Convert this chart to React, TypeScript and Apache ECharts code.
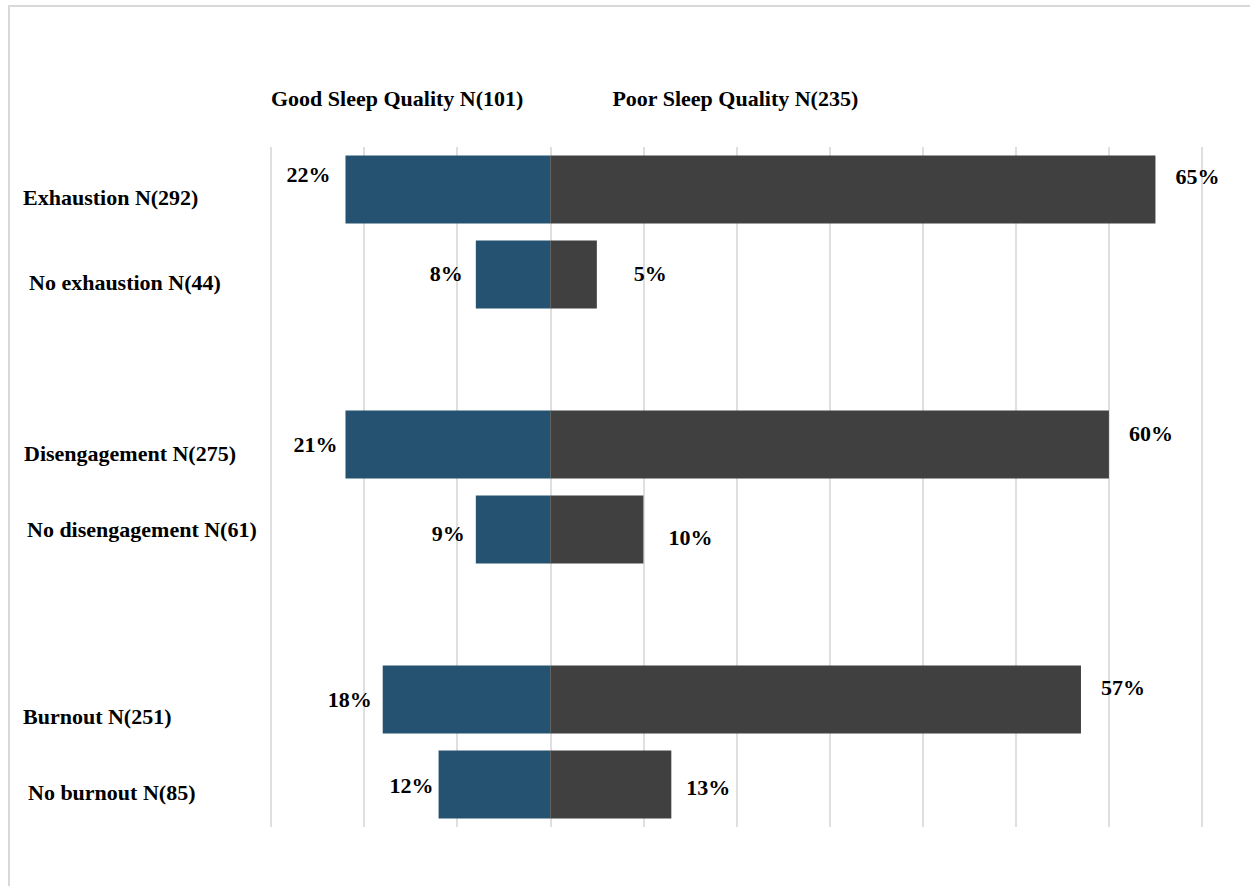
import React, { useEffect, useRef } from "react";
import * as echarts from "echarts";

const categories = [
  "Exhaustion N(292)",
  "No exhaustion N(44)",
  "",
  "Disengagement N(275)",
  "No disengagement N(61)",
  "",
  "Burnout N(251)",
  "No burnout N(85)",
];
const seriesNames = ["Good Sleep Quality N(101)", "Poor Sleep Quality N(235)"];
// bar lengths (percent)
const goodValues = [22, 8, null, 22, 8, null, 18, 12];
const poorValues = [65, 5, null, 60, 10, null, 57, 13];
// printed labels
const goodLabels = ["22%", "8%", "", "21%", "9%", "", "18%", "12%"];
const poorLabels = ["65%", "5%", "", "60%", "10%", "", "57%", "13%"];
const xTicks = { min: -30, max: 70, interval: 10 };

const FONT = "Liberation Serif";
const FS = 22;
const BLUE = "#245270";
const GRAY = "#404040";
// label nudges (styling only)
const catPad = [
  [16, 0],
  [16, 6],
  [0, 0],
  [18, 1],
  [0, 4],
  [0, 0],
  [34, 0],
  [16, 5],
];
const goodNudge = [
  [0, -15],
  [2, -1],
  [0, 0],
  [7, 0],
  [4, 4],
  [0, 0],
  [4, 0],
  [10, 1],
];
const poorNudge = [
  [0, -13],
  [17, -1],
  [0, 0],
  [0, -11],
  [5, 8],
  [0, 0],
  [0, -12],
  [-5, 3],
];

export default function App() {
  const ref = useRef<HTMLDivElement>(null);
  useEffect(() => {
    if (!ref.current) return;
    const chart = echarts.init(ref.current, null, { renderer: "svg" });
    const rich: Record<string, any> = {};
    catPad.forEach((p, i) => {
      rich["c" + i] = {
        fontFamily: FONT,
        fontWeight: "bold",
        fontSize: FS,
        color: "#000",
        padding: [p[0], 0, 0, p[1]],
      };
    });
    const labelBase = {
      show: true,
      fontFamily: FONT,
      fontWeight: "bold",
      fontSize: FS,
      color: "#000",
    };
    chart.setOption({
      animation: false,
      backgroundColor: "#fff",
      textStyle: { fontFamily: FONT },
      graphic: [
        {
          type: "rect",
          silent: true,
          shape: { x: 9, y: 6, width: 1300, height: 1000 },
          style: { fill: "none", stroke: "#d9d9d9", lineWidth: 2 },
        },
      ],
      legend: {
        data: seriesNames,
        left: 261,
        top: 82,
        icon: "rect",
        itemWidth: 0,
        itemHeight: 20,
        itemGap: 84,
        selectedMode: false,
        textStyle: {
          fontFamily: FONT,
          fontWeight: "bold",
          fontSize: FS,
          color: "#000",
        },
      },
      grid: { left: 271, right: 48, top: 147, bottom: 59, containLabel: false },
      xAxis: {
        type: "value",
        min: xTicks.min,
        max: xTicks.max,
        interval: xTicks.interval,
        axisLabel: { show: false },
        axisLine: { show: false },
        axisTick: { show: false },
        splitLine: { show: true, lineStyle: { color: "#d4d4d4", width: 1.5 } },
      },
      yAxis: {
        type: "category",
        data: categories,
        inverse: true,
        axisLine: { show: false },
        axisTick: { show: false },
        axisLabel: {
          align: "left",
          margin: 248,
          interval: 0,
          fontFamily: FONT,
          formatter: (v: string, i: number) => (v ? `{c${i}|${v}}` : ""),
          rich,
        },
      },
      series: [
        {
          name: seriesNames[0],
          type: "bar",
          barGap: "-100%",
          barCategoryGap: "20%",
          itemStyle: { color: BLUE },
          data: goodValues.map((v, i) =>
            v == null
              ? null
              : { value: -v, label: { offset: goodNudge[i] } }
          ),
          label: {
            ...labelBase,
            position: "left",
            distance: 15,
            formatter: (p: any) => goodLabels[p.dataIndex],
          },
        },
        {
          name: seriesNames[1],
          type: "bar",
          barGap: "-100%",
          barCategoryGap: "20%",
          itemStyle: { color: GRAY },
          data: poorValues.map((v, i) =>
            v == null ? null : { value: v, label: { offset: poorNudge[i] } }
          ),
          label: {
            ...labelBase,
            position: "right",
            distance: 20,
            formatter: (p: any) => poorLabels[p.dataIndex],
          },
        },
      ],
    });
    return () => chart.dispose();
  }, []);
  return (
    <div
      ref={ref}
      style={{ position: "absolute", left: 0, top: 0, width: 1250, height: 886 }}
    />
  );
}
